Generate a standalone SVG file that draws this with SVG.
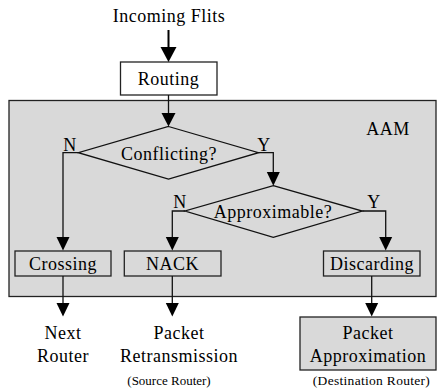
<svg xmlns="http://www.w3.org/2000/svg" width="439" height="390" viewBox="0 0 439 390" font-family="'Liberation Serif', 'Times New Roman', Times, 'DejaVu Serif', serif">
<defs>
<style>
text{font-family:'Liberation Serif','Times New Roman',Times,'DejaVu Serif',serif;font-size:18px;fill:#000;text-anchor:middle;letter-spacing:0.5px}
.small{font-size:13px;letter-spacing:0}
.box{fill:#d9d9d9;stroke:#222;stroke-width:1.3}
.wbox{fill:#fff;stroke:#222;stroke-width:1.3}
.dia{fill:none;stroke:#111;stroke-width:1.3}
.ln{fill:none;stroke:#111;stroke-width:1.3}
.hd{fill:#000}
</style>
</defs>
<g id="aam">
<rect class="box" x="9" y="100.5" width="427" height="196"/>
<text x="388" y="135">AAM</text>
</g>
<g id="incoming"><text x="169" y="22">Incoming Flits</text></g>
<g id="routing">
<rect class="wbox" x="120.5" y="62" width="96.5" height="33"/>
<text x="168.5" y="85">Routing</text>
</g>
<g id="conflicting">
<polygon class="dia" points="168.5,126.5 258.5,152.7 168.5,179 78.3,152.7"/>
<text x="169" y="159.5">Conflicting?</text>
</g>
<g id="approximable">
<polygon class="dia" points="273.3,185.7 362.3,211 273.3,237.3 185,211"/>
<text x="273" y="218">Approximable?</text>
</g>
<g id="crossing">
<rect class="box" x="15" y="251" width="96" height="25"/>
<text x="63" y="270">Crossing</text>
</g>
<g id="nack">
<rect class="box" x="124.3" y="251" width="96.7" height="25"/>
<text x="172.5" y="270">NACK</text>
</g>
<g id="discarding">
<rect class="box" x="323.5" y="251" width="96.5" height="25"/>
<text x="372" y="270">Discarding</text>
</g>
<g id="next-router">
<text x="63" y="339">Next</text>
<text x="63" y="361.5">Router</text>
</g>
<g id="packet-retransmission">
<text x="179" y="339">Packet</text>
<text x="179" y="361.5">Retransmission</text>
<text class="small" x="169" y="385">(Source Router)</text>
</g>
<g id="packet-approximation">
<rect class="box" x="300" y="317" width="136" height="53"/>
<text x="368" y="339">Packet</text>
<text x="368" y="361.5">Approximation</text>
<text class="small" x="371.5" y="385" style="font-size:13.5px;letter-spacing:0.3px">(Destination Router)</text>
</g>
<g id="connectors">
<line x1="168.5" y1="30" x2="168.5" y2="48" stroke="#000" stroke-width="2"/>
<polygon class="hd" points="160.5,47 176.5,47 168.5,62"/>
<line class="ln" x1="168.5" y1="95" x2="168.5" y2="114"/>
<polygon class="hd" points="161.5,113 175.5,113 168.5,126.5"/>
<text x="70" y="150.5">N</text>
<text x="264" y="150.5">Y</text>
<polyline class="ln" points="78.3,152.7 63,152.7 63,238"/>
<polygon class="hd" points="56.5,237 69.5,237 63,250.5"/>
<polyline class="ln" points="258.5,152.7 273.3,152.7 273.3,173"/>
<polygon class="hd" points="266.8,172 279.8,172 273.3,185.7"/>
<text x="180" y="207.5">N</text>
<text x="374" y="207.5">Y</text>
<polyline class="ln" points="185,211 172.3,211 172.3,238"/>
<polygon class="hd" points="165.8,237 178.8,237 172.3,250.5"/>
<polyline class="ln" points="362.3,211 385.7,211 385.7,238"/>
<polygon class="hd" points="379.2,237 392.2,237 385.7,250.5"/>
<line class="ln" x1="63" y1="276" x2="63" y2="304"/>
<polygon class="hd" points="56.5,303 69.5,303 63,316.5"/>
<line class="ln" x1="172.3" y1="276" x2="172.3" y2="304"/>
<polygon class="hd" points="165.8,303 178.8,303 172.3,316.5"/>
<line class="ln" x1="371.7" y1="276" x2="371.7" y2="304"/>
<polygon class="hd" points="365.2,303 378.2,303 371.7,316.5"/>
</g>
</svg>
